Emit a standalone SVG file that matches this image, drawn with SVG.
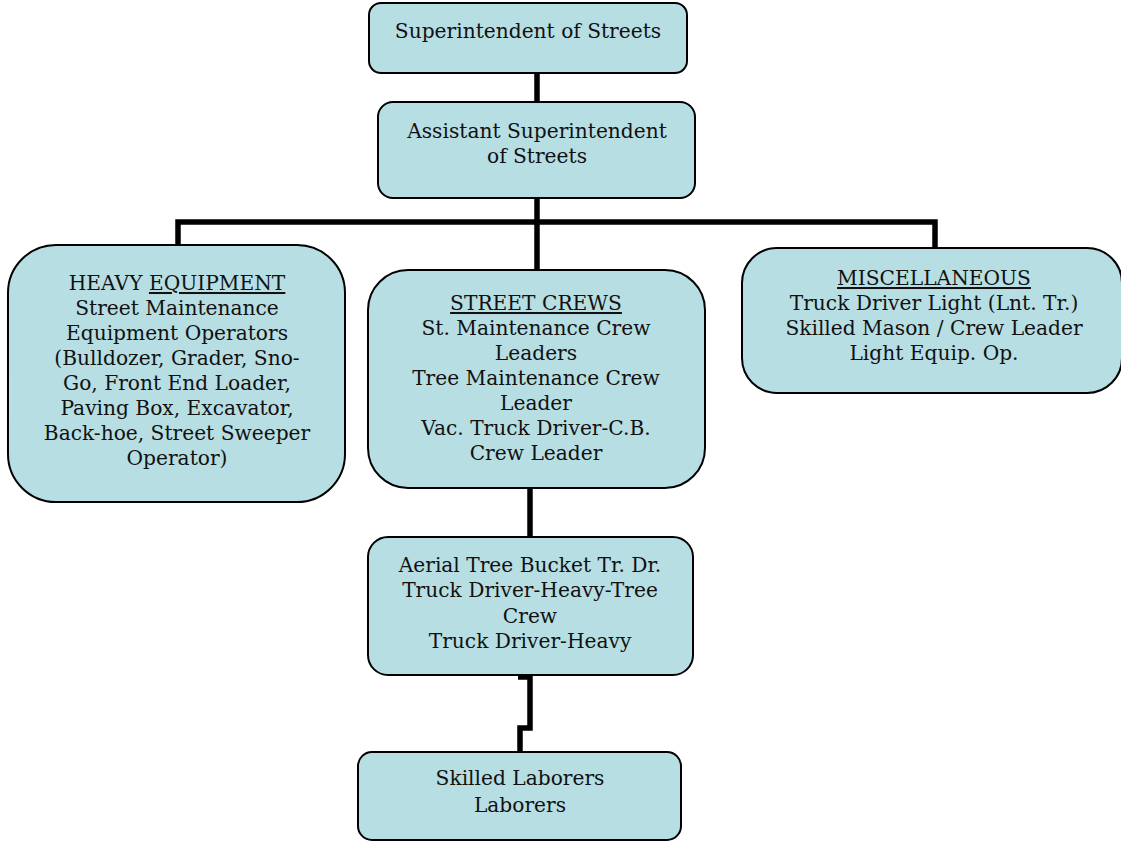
<svg xmlns="http://www.w3.org/2000/svg" width="1121" height="842" viewBox="0 0 1121 842">
<style>
.box{fill:#b7dee3;stroke:#000;stroke-width:2}
.t{font-family:"DejaVu Serif","Liberation Serif",serif;font-size:20.2px;fill:#111;text-anchor:middle}
.u{text-decoration:underline}
.c{fill:none;stroke:#000;stroke-width:5.5;stroke-linejoin:miter}
</style>
<rect width="1121" height="842" fill="#fff"/>
<g id="connectors">
<line class="c" x1="537" y1="73" x2="537" y2="102"/>
<line class="c" x1="537" y1="198" x2="537" y2="222"/>
<polyline class="c" points="178,245 178,222 935,222 935,248"/>
<line class="c" x1="537" y1="222" x2="537" y2="270"/>
<line class="c" x1="530" y1="488" x2="530" y2="537"/>
<polyline class="c" points="518,677 530,677 530,728 520,728 520,752"/>
</g>
<g id="superintendent">
<rect class="box" x="369" y="3" width="318" height="70" rx="12"/>
<text class="t" x="528" y="38">Superintendent of Streets</text>
</g>
<g id="assistant">
<rect class="box" x="378" y="102" width="317" height="96" rx="15"/>
<text class="t" x="537" y="138">Assistant Superintendent</text>
<text class="t" x="537" y="163">of Streets</text>
</g>
<g id="heavy">
<rect class="box" x="8" y="245" width="337" height="257" rx="48"/>
<text class="t" x="177" y="290">HEAVY <tspan class="u">EQUIPMENT</tspan></text>
<text class="t" x="177" y="315">Street Maintenance</text>
<text class="t" x="177" y="340">Equipment Operators</text>
<text class="t" x="177" y="365">(Bulldozer, Grader, Sno-</text>
<text class="t" x="177" y="390">Go, Front End Loader,</text>
<text class="t" x="177" y="415">Paving Box, Excavator,</text>
<text class="t" x="177" y="440">Back-hoe, Street Sweeper</text>
<text class="t" x="177" y="465">Operator)</text>
</g>
<g id="streetcrews">
<rect class="box" x="368" y="270" width="337" height="218" rx="40"/>
<text class="t u" x="536" y="310">STREET CREWS</text>
<text class="t" x="536" y="335">St. Maintenance Crew</text>
<text class="t" x="536" y="360">Leaders</text>
<text class="t" x="536" y="385">Tree Maintenance Crew</text>
<text class="t" x="536" y="410">Leader</text>
<text class="t" x="536" y="435">Vac. Truck Driver-C.B.</text>
<text class="t" x="536" y="460">Crew Leader</text>
</g>
<g id="misc">
<rect class="box" x="742" y="248" width="380" height="145" rx="35"/>
<text class="t u" x="934" y="285">MISCELLANEOUS</text>
<text class="t" x="934" y="310">Truck Driver Light (Lnt. Tr.)</text>
<text class="t" x="934" y="335">Skilled Mason / Crew Leader</text>
<text class="t" x="934" y="360">Light Equip. Op.</text>
</g>
<g id="aerial">
<rect class="box" x="368" y="537" width="325" height="138" rx="20"/>
<text class="t" x="530" y="572">Aerial Tree Bucket Tr. Dr.</text>
<text class="t" x="530" y="597">Truck Driver-Heavy-Tree</text>
<text class="t" x="530" y="623">Crew</text>
<text class="t" x="530" y="648">Truck Driver-Heavy</text>
</g>
<g id="laborers">
<rect class="box" x="358" y="752" width="323" height="88" rx="14"/>
<text class="t" x="520" y="785">Skilled Laborers</text>
<text class="t" x="520" y="812">Laborers</text>
</g>
</svg>
